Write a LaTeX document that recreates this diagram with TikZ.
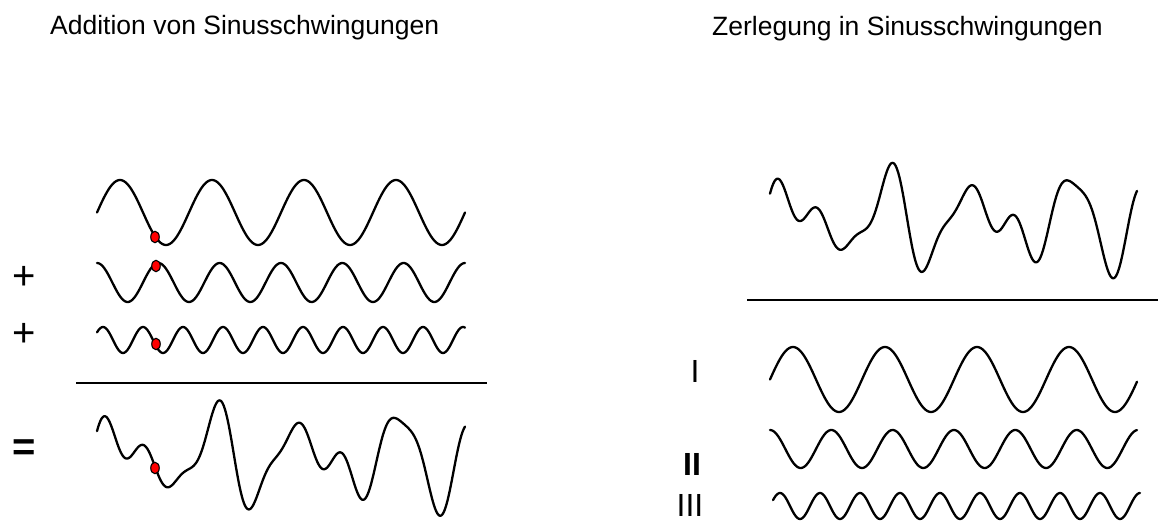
\documentclass[tikz,border=0pt]{standalone}
\usepackage{fontspec}
\setmainfont{Liberation Sans}
\usetikzlibrary{shapes.geometric}
\begin{document}
\begin{tikzpicture}[x=1pt,y=-1pt,
  wave/.style={line width=2.3pt, line join=round, line cap=round},
  rule/.style={line width=2.3pt},
  dot/.style={ellipse, draw=black, line width=1.1pt, fill=red, minimum width=8.5pt, minimum height=11.5pt, inner sep=0pt},
  title/.style={font=\fontsize{26.5}{30}\selectfont, anchor=base west, inner sep=0pt},
  op/.style={font=\fontsize{40}{44}\selectfont, inner sep=0pt},
  roman/.style={font=\fontsize{32}{36}\selectfont, inner sep=0pt}]
\useasboundingbox (0,0) rectangle (1172,521);
% titles
\node[title] (tl) at (50,35) {Addition von Sinusschwingungen};
\node[title] (tr) at (712,36) {Zerlegung in Sinusschwingungen};
% left waves
\draw[wave] plot[domain=97:465, samples=250] (\x, {212.5-32.5*sin((\x-97)*3.9130)});
\draw[wave] plot[domain=97:465, samples=250] (\x, {282.5-19.5*cos((\x-97)*5.8699)});
\draw[wave] plot[domain=97:465, samples=300] (\x, {340-13*cos((\x-103)*9)});
\draw[rule] (76,383) -- (487,383);
\draw[wave] plot[domain=97:465, samples=400] (\x, {457.5-0.97*(32.5*sin((\x-97)*3.9130)+19.5*cos((\x-97)*5.8699)+13*cos((\x-103)*9))});
% left operators
\node[op] (p1) at (24,278) {+};
\node[op] (p2) at (24,335) {+};
\node[op, font=\fontsize{40}{44}\selectfont\bfseries] (eq) at (24,450) {=};
% red dots
\node[dot] (d1) at (155,237) {};
\node[dot] (d2) at (156,266) {};
\node[dot] (d3) at (156,344) {};
\node[dot] (d4) at (155,468) {};
% right composite
\draw[wave] plot[domain=770:1137, samples=400] (\x, {220-0.97*(32.5*sin((\x-770)*3.9130)+19.5*cos((\x-770)*5.8699)+13*cos((\x-776)*9))});
\draw[rule] (747,300) -- (1158,300);
% right components
\draw[wave] plot[domain=770:1137, samples=250] (\x, {379.5-32.5*sin((\x-770)*3.9130)});
\draw[wave] plot[domain=770:1137, samples=250] (\x, {449-19*cos((\x-770)*5.8699)});
\draw[wave] plot[domain=773:1140, samples=300] (\x, {506-13*cos((\x-780)*9)});
\node[roman] (r1) at (695,371) {I};
\node[roman, font=\fontsize{32}{36}\selectfont\bfseries] (r2) at (692,464) {II};
\node[roman] (r3) at (690,505) {III};
\end{tikzpicture}
\end{document}
